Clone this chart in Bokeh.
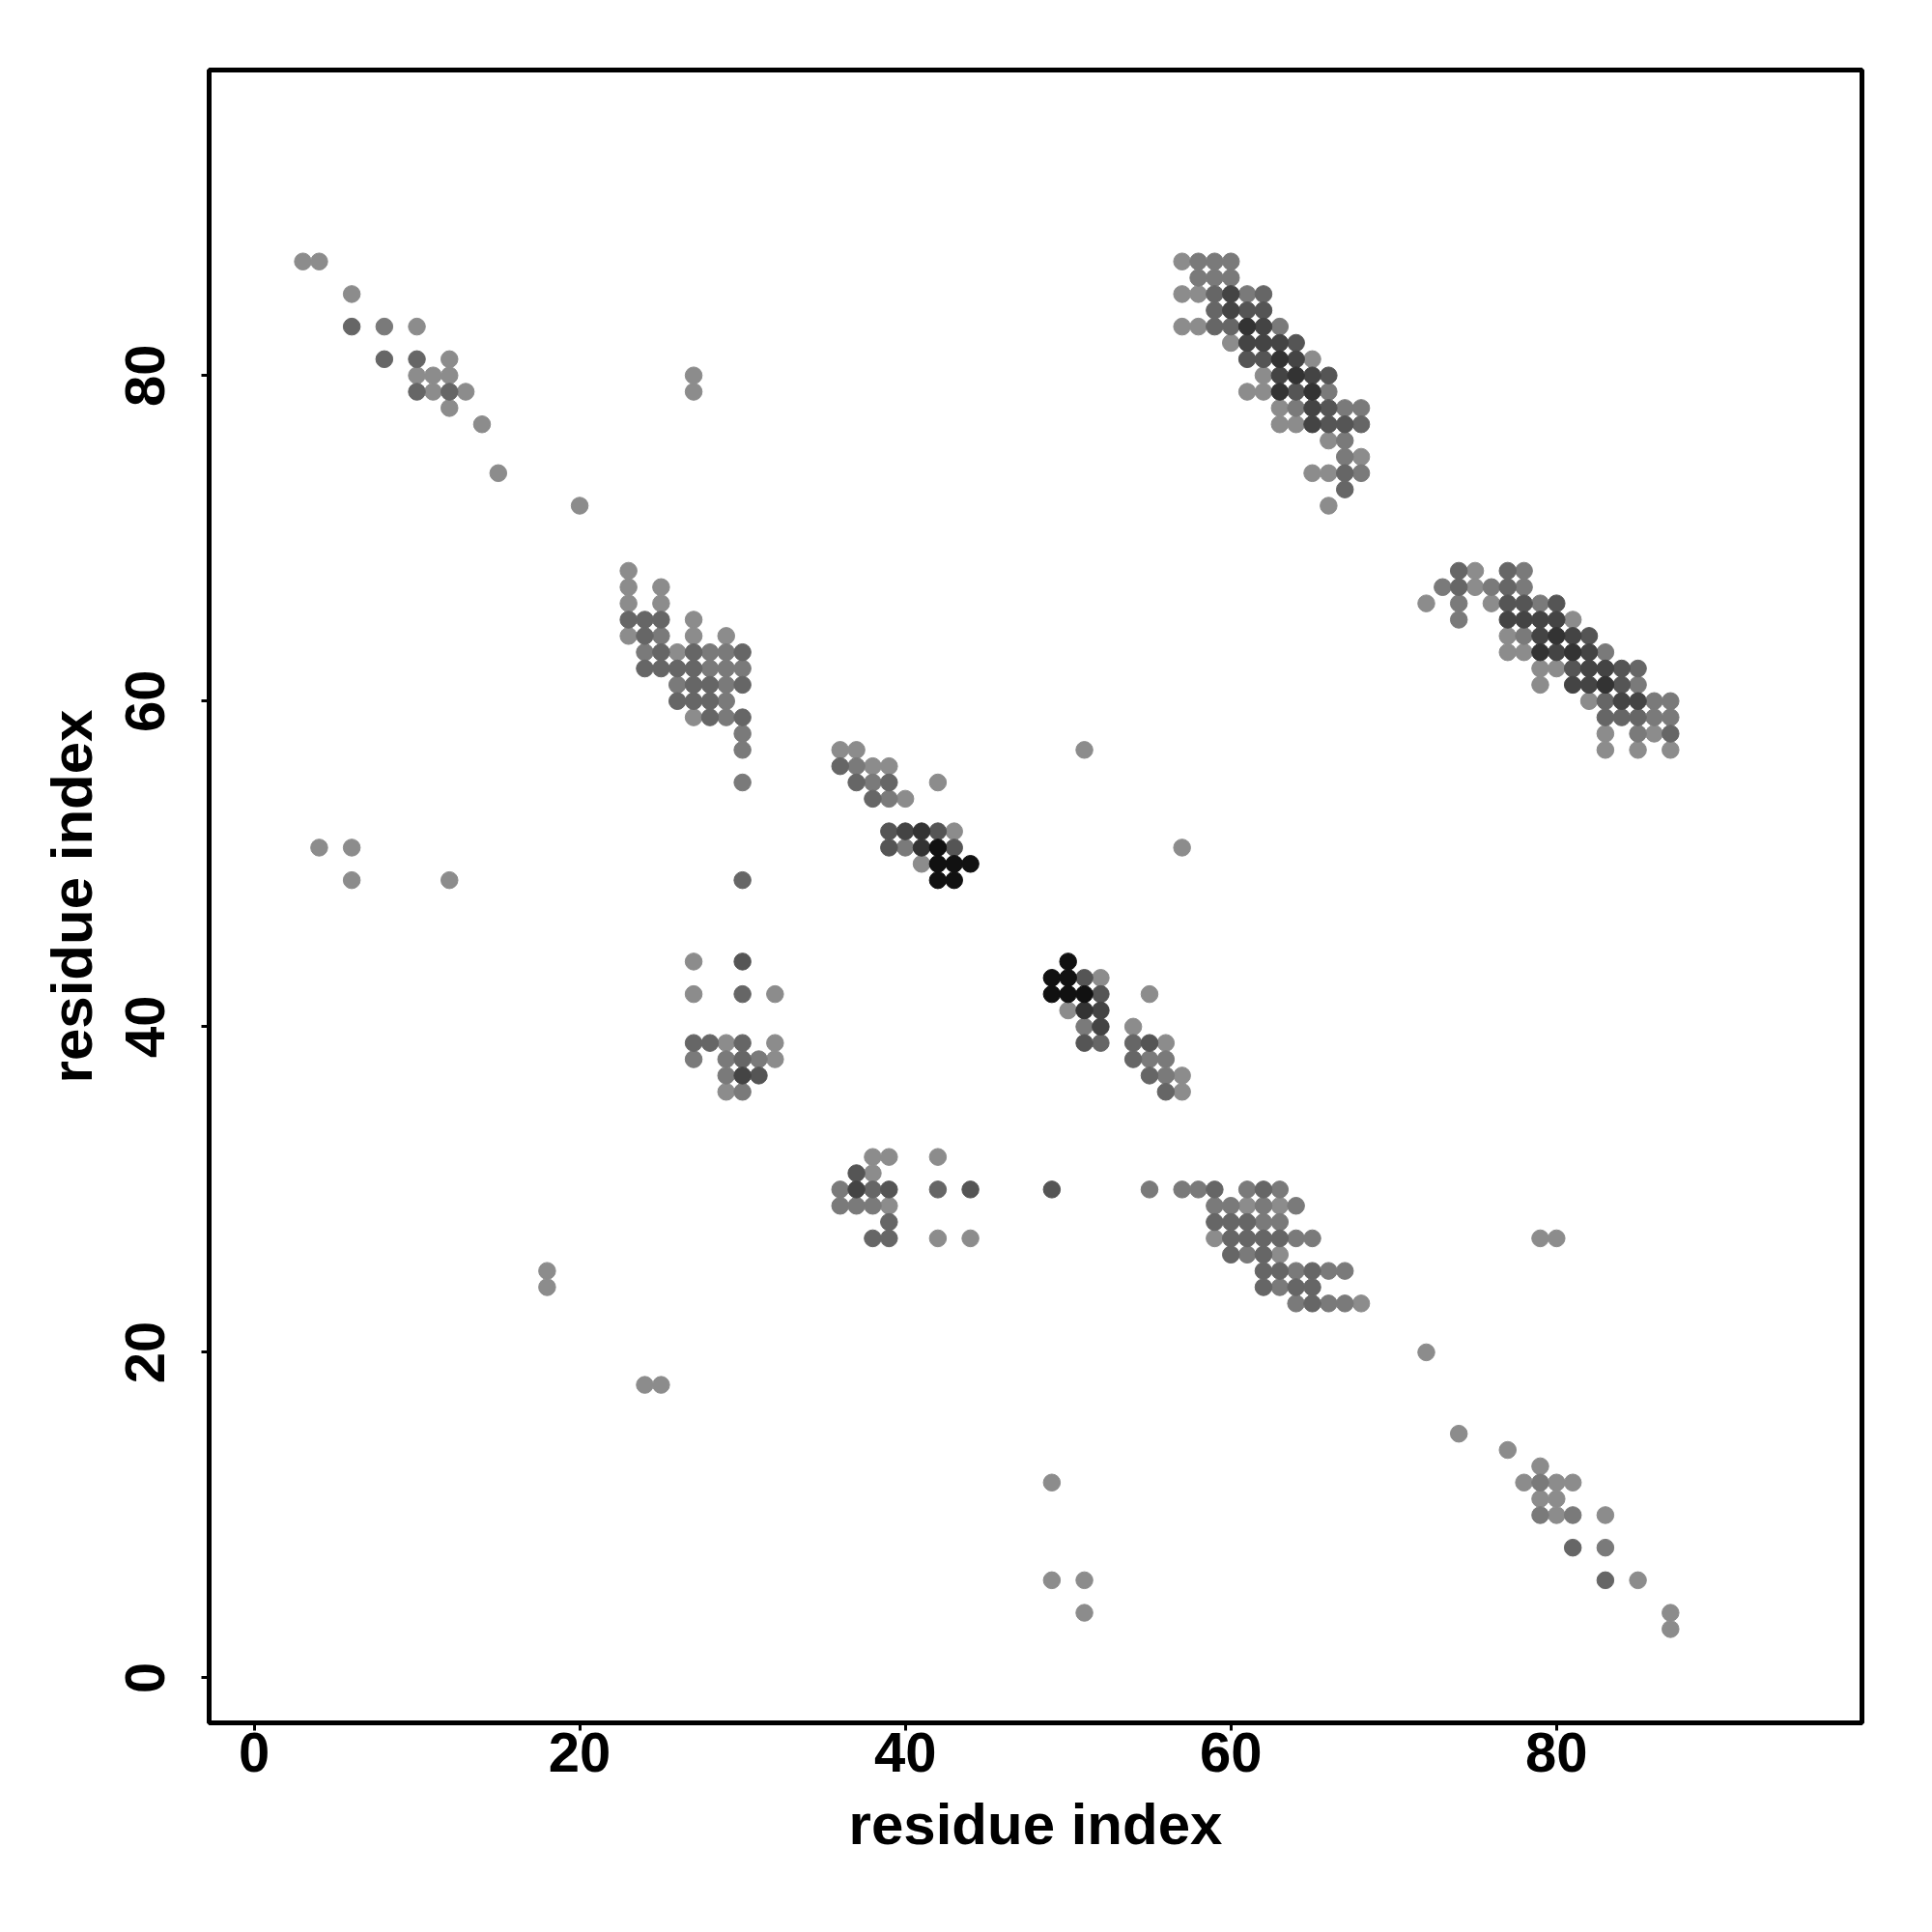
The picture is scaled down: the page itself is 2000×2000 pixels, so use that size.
from bokeh.plotting import figure
from bokeh.models import Range1d, FixedTicker, ColumnDataSource
from bokeh.embed import file_html
from bokeh.resources import INLINE

# Contact map: residue i (x), residue j (y), shade level (1 light ... 7 black)
res_i = [
    # top-left diagonal
    3, 4, 6, 6, 8, 10, 8, 10, 12, 10, 11, 12, 10, 11, 12, 13, 12, 14, 15, 20,
    # top-right band
    57, 58, 59, 60,
    58, 59, 60,
    57, 58, 59, 60, 61, 62,
    59, 60, 61, 62,
    57, 58, 59, 60, 61, 62, 63,
    60, 61, 62, 63, 64,
    61, 62, 63, 64, 65,
    62, 63, 64, 65, 66,
    61, 62, 63, 64, 65, 66,
    63, 64, 65, 66, 67, 68,
    63, 64, 65, 66, 67, 68,
    66, 67,
    67, 68,
    65, 66, 67, 68,
    67,
    66,
    # right band
    74, 75, 77, 78,
    73, 74, 75, 76, 77, 78,
    72, 74, 76, 77, 78, 79, 80,
    74, 77, 78, 79, 80, 81,
    77, 78, 79, 80, 81, 82,
    77, 78, 79, 80, 81, 82, 83,
    79, 80, 81, 82, 83, 84, 85,
    79, 81, 82, 83, 84, 85,
    82, 83, 84, 85, 86, 87,
    83, 84, 85, 86, 87,
    83, 85, 86, 87,
    83, 85, 87,
    # middle-left block
    27, 27,
    23,
    23, 25,
    23, 25,
    23, 24, 25, 27,
    23, 24, 25, 27, 29,
    24, 25, 26, 27, 28, 29, 30,
    24, 25, 26, 27, 28, 29, 30,
    26, 27, 28, 29, 30,
    26, 27, 28, 29,
    27, 28, 29, 30,
    30, 30, 30,
    # center block
    36, 37, 51,
    36, 37, 38, 39,
    37, 38, 39, 42,
    38, 39, 40,
    39, 40, 41, 42, 43,
    39, 40, 41, 42, 43,
    41, 42, 43, 44,
    42, 43,
    # isolated row 49-51
    4, 6, 6, 12, 30, 57,
    # lower-left block
    27, 30,
    27, 30, 32,
    27, 28, 29, 30, 32,
    27, 29, 30, 31, 32,
    29, 30, 31,
    29, 30,
    # center block 2
    50,
    49, 50, 51, 52,
    49, 50, 51, 52, 55,
    50, 51, 52,
    51, 52, 54,
    51, 52, 54, 55, 56,
    54, 55, 56,
    55, 56, 57,
    56, 57,
    # row 27-32 block
    38, 39, 42,
    37, 38,
    36, 37, 38, 39, 42, 44, 49, 55,
    36, 37, 38, 39,
    39,
    38, 39, 42, 44,
    # lower-right band
    57, 58, 59, 61, 62, 63,
    59, 60, 61, 62, 63, 64,
    59, 60, 61, 62, 63,
    59, 60, 61, 62, 63, 64, 65,
    60, 61, 62, 63,
    62, 63, 64, 65, 66, 67,
    62, 63, 64, 65,
    64, 65, 66, 67, 68,
    # bottom-right scatter
    79, 80, 72, 74, 77, 79,
    78, 79, 80, 81,
    79, 80,
    79, 80, 81, 83,
    81, 83,
    83, 85,
    87, 87,
    # misc
    18, 18, 24, 25, 49, 49, 51, 51,
]

res_j = [
    87, 87, 85, 83, 83, 83, 81, 81, 81, 80, 80, 80, 79, 79, 79, 79, 78, 77, 74, 72,
    87, 87, 87, 87,
    86, 86, 86,
    85, 85, 85, 85, 85, 85,
    84, 84, 84, 84,
    83, 83, 83, 83, 83, 83, 83,
    82, 82, 82, 82, 82,
    81, 81, 81, 81, 81,
    80, 80, 80, 80, 80,
    79, 79, 79, 79, 79, 79,
    78, 78, 78, 78, 78, 78,
    77, 77, 77, 77, 77, 77,
    76, 76,
    75, 75,
    74, 74, 74, 74,
    73,
    72,
    68, 68, 68, 68,
    67, 67, 67, 67, 67, 67,
    66, 66, 66, 66, 66, 66, 66,
    65, 65, 65, 65, 65, 65,
    64, 64, 64, 64, 64, 64,
    63, 63, 63, 63, 63, 63, 63,
    62, 62, 62, 62, 62, 62, 62,
    61, 61, 61, 61, 61, 61,
    60, 60, 60, 60, 60, 60,
    59, 59, 59, 59, 59,
    58, 58, 58, 58,
    57, 57, 57,
    80, 79,
    68,
    67, 67,
    66, 66,
    65, 65, 65, 65,
    64, 64, 64, 64, 64,
    63, 63, 63, 63, 63, 63, 63,
    62, 62, 62, 62, 62, 62, 62,
    61, 61, 61, 61, 61,
    60, 60, 60, 60,
    59, 59, 59, 59,
    58, 57, 55,
    57, 57, 57,
    56, 56, 56, 56,
    55, 55, 55, 55,
    54, 54, 54,
    52, 52, 52, 52, 52,
    51, 51, 51, 51, 51,
    50, 50, 50, 50,
    49, 49,
    51, 51, 49, 49, 49, 51,
    44, 44,
    42, 42, 42,
    39, 39, 39, 39, 39,
    38, 38, 38, 38, 38,
    37, 37, 37,
    36, 36,
    44,
    43, 43, 43, 43,
    42, 42, 42, 42, 42,
    41, 41, 41,
    40, 40, 40,
    39, 39, 39, 39, 39,
    38, 38, 38,
    37, 37, 37,
    36, 36,
    32, 32, 32,
    31, 31,
    30, 30, 30, 30, 30, 30, 30, 30,
    29, 29, 29, 29,
    28,
    27, 27, 27, 27,
    30, 30, 30, 30, 30, 30,
    29, 29, 29, 29, 29, 29,
    28, 28, 28, 28, 28,
    27, 27, 27, 27, 27, 27, 27,
    26, 26, 26, 26,
    25, 25, 25, 25, 25, 25,
    24, 24, 24, 24,
    23, 23, 23, 23, 23,
    27, 27, 20, 15, 14, 13,
    12, 12, 12, 12,
    11, 11,
    10, 10, 10, 10,
    8, 8,
    6, 6,
    4, 3,
    25, 24, 18, 18, 12, 6, 6, 4,
]

shade = [
    1, 1, 1, 3, 2, 1, 3, 3, 1, 1, 1, 1, 3, 1, 3, 1, 1, 1, 1, 1,
    1, 2, 2, 2,
    2, 2, 2,
    1, 1, 3, 5, 2, 3,
    3, 5, 4, 4,
    1, 1, 3, 3, 6, 5, 2,
    1, 5, 5, 5, 4,
    4, 4, 6, 5, 1,
    1, 5, 6, 5, 4,
    1, 1, 6, 4, 6, 2,
    1, 2, 5, 4, 2, 2,
    1, 1, 5, 4, 4, 3,
    1, 2,
    2, 1,
    1, 1, 3, 2,
    3,
    1,
    3, 1, 3, 2,
    2, 3, 1, 2, 3, 2,
    1, 2, 1, 4, 4, 2, 4,
    2, 5, 5, 5, 5, 1,
    1, 2, 5, 6, 5, 4,
    1, 1, 6, 5, 6, 5, 2,
    1, 1, 4, 5, 5, 4, 3,
    1, 5, 5, 6, 4, 2,
    1, 3, 5, 5, 2, 2,
    3, 3, 3, 2, 2,
    1, 2, 1, 3,
    1, 1, 1,
    1, 1,
    1,
    1, 1,
    1, 1,
    3, 3, 3, 1,
    1, 3, 2, 1, 1,
    2, 3, 1, 3, 2, 2, 3,
    3, 3, 3, 3, 2, 2, 2,
    2, 3, 3, 2, 3,
    3, 3, 3, 2,
    1, 3, 2, 3,
    2, 2, 2,
    1, 1, 1,
    3, 2, 1, 1,
    3, 2, 3, 1,
    3, 2, 1,
    4, 5, 6, 4, 1,
    4, 2, 6, 7, 4,
    1, 7, 7, 7,
    7, 7,
    1, 1, 1, 1, 3, 1,
    1, 4,
    1, 3, 1,
    3, 3, 1, 3, 1,
    2, 2, 3, 2, 1,
    2, 5, 4,
    1, 2,
    7,
    7, 7, 4, 1,
    7, 7, 7, 4, 1,
    1, 6, 5,
    2, 5, 1,
    4, 3, 3, 4, 1,
    3, 2, 2,
    3, 2, 1,
    3, 1,
    1, 1, 1,
    4, 1,
    2, 5, 3, 4, 3, 4, 4, 2,
    2, 2, 2, 1,
    3,
    3, 3, 1, 1,
    2, 2, 3, 2, 3, 2,
    2, 2, 1, 2, 1, 2,
    3, 3, 3, 2, 2,
    1, 3, 3, 3, 3, 2, 2,
    3, 2, 3, 1,
    3, 3, 2, 3, 2, 2,
    3, 2, 3, 3,
    2, 3, 2, 2, 1,
    1, 1, 1, 1, 1, 1,
    1, 2, 1, 1,
    1, 1,
    2, 1, 2, 1,
    3, 2,
    3, 1,
    1, 1,
    1, 1, 1, 1, 1, 1, 1, 1,
]

shade_colors = ["#8c8c8c", "#7a7a7a", "#666666", "#555555", "#444444", "#333333", "#111111"]
tick_values = [0, 20, 40, 60, 80]
axis_min, axis_max = -2.76, 98.76

colors = [shade_colors[k - 1] for k in shade]
order = sorted(range(len(shade)), key=lambda k: shade[k])
src = ColumnDataSource(dict(
    x=[res_i[k] for k in order],
    y=[res_j[k] for k in order],
    c=[colors[k] for k in order],
))

p = figure(width=1984, height=1984, output_backend="svg", toolbar_location=None,
           x_range=Range1d(axis_min, axis_max), y_range=Range1d(axis_min, axis_max),
           min_border_left=216, min_border_right=57, min_border_top=72, min_border_bottom=201)

p.scatter("x", "y", source=src, size=17.5, fill_color="c", line_color="c", line_width=1)

p.grid.visible = False
p.outline_line_color = "black"
p.outline_line_width = 5
p.background_fill_color = "white"
p.border_fill_color = "white"

for ax in (p.xaxis[0], p.yaxis[0]):
    ax.ticker = FixedTicker(ticks=tick_values)
    ax.axis_label = "residue index"
    ax.axis_line_color = None
    ax.major_tick_in = 0
    ax.major_tick_out = 8
    ax.major_tick_line_width = 3
    ax.major_tick_line_color = "black"
    ax.minor_tick_line_color = None
    ax.major_label_text_font = "Liberation Sans"
    ax.major_label_text_font_style = "bold"
    ax.major_label_text_font_size = "58px"
    ax.major_label_text_color = "black"
    ax.axis_label_text_font = "Liberation Sans"
    ax.axis_label_text_font_style = "bold"
    ax.axis_label_text_font_size = "60px"
    ax.axis_label_text_color = "black"

p.xaxis.major_label_standoff = 2
p.xaxis.axis_label_standoff = 18
p.yaxis.major_label_orientation = "vertical"
p.yaxis.major_label_standoff = 38
p.yaxis.axis_label_standoff = 20

open("out.html", "w").write(file_html(p, INLINE))
